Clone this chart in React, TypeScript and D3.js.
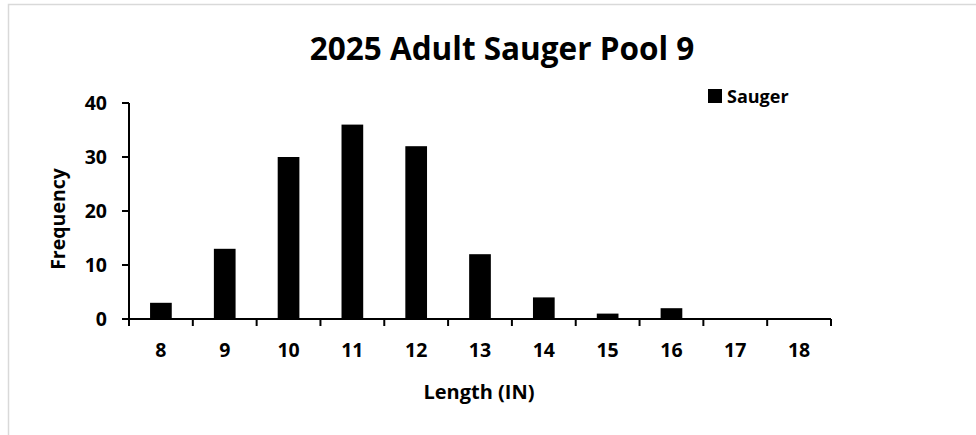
import React from "react";
import * as d3 from "d3";

const categories = ["8", "9", "10", "11", "12", "13", "14", "15", "16", "17", "18"];
const sauger = [3, 13, 30, 36, 32, 12, 4, 1, 2, 0, 0];
const yTicks = [0, 10, 20, 30, 40];
const title = "2025 Adult Sauger Pool 9";
const seriesName = "Sauger";
const xTitle = "Length (IN)";
const yTitle = "Frequency";

const W = 976;
const H = 435;
const left = 129;
const right = 831;
const top = 103;
const bottom = 319;
const FONT = "'Open Sans', 'DejaVu Sans', sans-serif";

export default function App() {
  const x = d3.scaleBand<string>().domain(categories).range([left, right]).paddingInner(0.66).paddingOuter(0.33);
  const y = d3.scaleLinear().domain([0, 40]).range([bottom, top]);
  const step = x.step();
  const boundaries = d3.range(categories.length + 1).map((i) => left + i * step);

  return (
    <svg width={W} height={H} style={{ position: "absolute", left: 0, top: 0, background: "#fff" }}>
      <rect x={8.5} y={4.5} width={W + 10} height={H + 10} fill="#fff" stroke="#d9d9d9" strokeWidth={1.5} />
      <text x={502} y={60} textAnchor="middle" fontFamily={FONT} fontWeight={700} fontSize={31.5} fill="#000">
        {title}
      </text>
      {sauger.map((v, i) => (
        <rect key={i} x={x(categories[i])!} y={y(v)} width={x.bandwidth()} height={y(0) - y(v)} fill="#000" />
      ))}
      <line x1={left} x2={left} y1={top} y2={bottom} stroke="#000" strokeWidth={2} />
      <line x1={left} x2={right} y1={bottom} y2={bottom} stroke="#000" strokeWidth={2} />
      {yTicks.map((t) => (
        <g key={t}>
          <line x1={left - 7} x2={left} y1={y(t)} y2={y(t)} stroke="#000" strokeWidth={2} />
          <text x={107} y={y(t)} dy="0.36em" textAnchor="end" fontFamily={FONT} fontWeight={700} fontSize={19.5}>
            {t}
          </text>
        </g>
      ))}
      {boundaries.map((b, i) => (
        <line key={i} x1={b} x2={b} y1={bottom} y2={bottom + 7} stroke="#000" strokeWidth={2} />
      ))}
      {categories.map((c) => (
        <text key={c} x={x(c)! + x.bandwidth() / 2} y={357} textAnchor="middle" fontFamily={FONT} fontWeight={700} fontSize={19.5}>
          {c}
        </text>
      ))}
      <text x={479} y={399} textAnchor="middle" fontFamily={FONT} fontWeight={700} fontSize={20}>
        {xTitle}
      </text>
      <text transform={`translate(65,219) rotate(-90)`} textAnchor="middle" fontFamily={FONT} fontWeight={700} fontSize={19.5}>
        {yTitle}
      </text>
      <rect x={708} y={89} width={14} height={14} fill="#000" />
      <text x={727} y={103} fontFamily={FONT} fontWeight={700} fontSize={18}>
        {seriesName}
      </text>
    </svg>
  );
}
